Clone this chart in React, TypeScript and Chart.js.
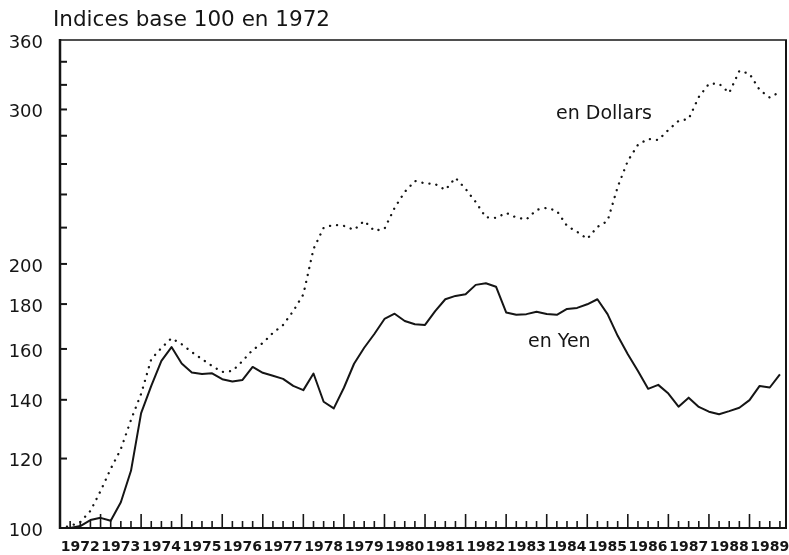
import React, { useEffect, useRef } from "react";
import { Chart, registerables } from "chart.js";

Chart.register(...registerables);

const TITLE = "Indices base 100 en 1972";
const FIRST_YEAR = 1972;
const YEARS = [1972, 1973, 1974, 1975, 1976, 1977, 1978, 1979, 1980, 1981, 1982, 1983, 1984, 1985, 1986, 1987, 1988, 1989];
const Y_TICK_VALUES = [100, 120, 140, 160, 180, 200, 220, 240, 260, 280, 300, 320, 340, 360];
const Y_LABELLED_VALUES = [100, 120, 140, 160, 180, 200, 300, 360];
const SERIES_NAMES = ["en Dollars", "en Yen"];

// quarterly index values, 1972 Q1 .. 1989 Q4
const DOLLARS = [
  100, 100.5, 101.6, 104.6,
  110.2, 116.8, 123.0, 132.8,
  142.2, 155.8, 160.4, 164.6,
  162.0, 158.7, 155.8, 153.0,
  150.6, 151.0, 155.0, 159.6,
  162.5, 166.9, 170.4, 176.7,
  184.6, 208.0, 219.9, 221.6,
  221.0, 218.7, 223.9, 218.2,
  219.3, 231.7, 241.6, 248.7,
  247.1, 246.7, 242.9, 250.7,
  243.5, 235.3, 226.0, 225.7,
  228.7, 225.9, 224.8, 230.5,
  231.7, 229.9, 221.0, 217.6,
  213.6, 220.4, 223.9, 244.8,
  262.1, 273.4, 277.7, 276.9,
  284.3, 291.1, 292.6, 310.0,
  320.9, 321.0, 313.3, 332.0,
  329.5, 315.8, 309.5, 314.2,
];

const YEN = [
  100, 100, 100.5, 102.1,
  102.7, 101.9, 107.0, 116.2,
  135.2, 145.2, 155.1, 160.8,
  154.0, 150.4, 149.8, 150.1,
  147.8, 146.9, 147.5, 152.6,
  150.3, 149.1, 147.9, 145.2,
  143.6, 150.0, 139.3, 136.9,
  144.5, 153.9, 160.5, 166.4,
  173.1, 175.5, 172.2, 170.7,
  170.4, 176.7, 182.3, 183.9,
  184.7, 189.3, 190.1, 188.4,
  176.1, 175.0, 175.3, 176.4,
  175.4, 175.0, 177.7, 178.2,
  179.9, 182.3, 175.3, 165.6,
  157.8, 151.0, 144.1, 145.6,
  142.3, 137.5, 140.8, 137.4,
  135.7, 134.8, 135.9, 137.1,
  139.9, 145.2, 144.6, 149.7,
];

const toPoints = (vals: number[]) => vals.map((v, i) => ({ x: FIRST_YEAR + i / 4, y: v }));

const INK = "#151515";

const framePlugin = {
  id: "frameTicks",
  afterDatasetsDraw(chart: any) {
    const { ctx, chartArea: a, scales } = chart;
    const x = scales.x;
    const y = scales.y;
    const line = (x1: number, y1: number, x2: number, y2: number, w: number) => {
      ctx.lineWidth = w;
      ctx.beginPath();
      ctx.moveTo(x1, y1);
      ctx.lineTo(x2, y2);
      ctx.stroke();
    };
    ctx.save();
    ctx.strokeStyle = INK;
    ctx.lineCap = "butt";
    line(a.left, a.top - 1, a.left, a.bottom + 1, 2.5);
    line(a.left, a.bottom, a.right + 1, a.bottom, 2.2);
    line(a.left, a.top, a.right + 1, a.top, 1.6);
    line(a.right, a.top, a.right, a.bottom, 2);
    Y_TICK_VALUES.forEach((v) => {
      if (v <= y.min || v >= y.max) return;
      const py = y.getPixelForValue(v);
      line(a.left, py, a.left + 7, py, 2);
    });
    for (let q = 1; q < YEARS.length * 4; q++) {
      const t = FIRST_YEAR + q / 4;
      const px = x.getPixelForValue(t);
      if (px > a.right - 2) break;
      const len = q % 4 === 0 ? 14 : 7;
      line(px, a.bottom, px, a.bottom - len, 1.6);
    }
    ctx.restore();
  },
};

const textPlugin = {
  id: "texts",
  afterDraw(chart: any) {
    const { ctx, chartArea: a, scales } = chart;
    const x = scales.x;
    const y = scales.y;
    ctx.save();
    ctx.fillStyle = INK;
    ctx.textAlign = "left";
    ctx.textBaseline = "alphabetic";
    ctx.font = "21.5px 'DejaVu Sans'";
    ctx.fillText(TITLE, a.left - 7, 26);
    ctx.font = "19px 'DejaVu Sans'";
    ctx.fillText(SERIES_NAMES[0], x.getPixelForValue(1984.23), y.getPixelForValue(292.6));
    ctx.fillText(SERIES_NAMES[1], x.getPixelForValue(1983.54), y.getPixelForValue(160.8));
    ctx.restore();
  },
};

export default function App() {
  const ref = useRef<HTMLCanvasElement | null>(null);

  useEffect(() => {
    if (!ref.current) return;
    const chart = new Chart(ref.current, {
      type: "line",
      data: {
        datasets: [
          {
            label: SERIES_NAMES[0],
            data: toPoints(DOLLARS),
            borderColor: INK,
            borderWidth: 2.3,
            borderDash: [0.1, 7],
            borderCapStyle: "round",
            pointRadius: 0,
            tension: 0,
            fill: false,
          },
          {
            label: SERIES_NAMES[1],
            data: toPoints(YEN),
            borderColor: INK,
            borderWidth: 2,
            pointRadius: 0,
            tension: 0,
            fill: false,
            borderJoinStyle: "round",
          },
        ],
      },
      options: {
        responsive: false,
        animation: false,
        devicePixelRatio: 1,
        layout: { padding: { top: 40, right: 3, left: 0, bottom: 0 } },
        plugins: {
          legend: { display: false },
          tooltip: { enabled: false },
          title: { display: false },
        },
        scales: {
          x: {
            type: "linear",
            min: FIRST_YEAR,
            max: 1989.9,
            grid: { display: false, drawTicks: false },
            border: { display: false },
            afterBuildTicks: (s: any) => {
              s.ticks = YEARS.map((yr) => ({ value: yr + 0.5 }));
            },
            afterFit: (s: any) => {
              s.height = 27;
              s.paddingLeft = 0;
              s.paddingRight = 0;
            },
            ticks: {
              autoSkip: false,
              maxRotation: 0,
              minRotation: 0,
              padding: 11,
              color: INK,
              font: { family: "'DejaVu Sans'", weight: "bold", size: 14 },
              callback: (v: any) => String(Math.floor(Number(v))),
            },
          },
          y: {
            type: "logarithmic",
            min: 100,
            max: 360,
            grid: { display: false, drawTicks: false },
            border: { display: false },
            afterBuildTicks: (s: any) => {
              s.ticks = Y_TICK_VALUES.map((v) => ({ value: v }));
            },
            afterFit: (s: any) => {
              s.width = 60;
              s.paddingTop = 0;
              s.paddingBottom = 0;
            },
            ticks: {
              autoSkip: false,
              padding: 17,
              labelOffset: 3,
              color: INK,
              font: { family: "'DejaVu Sans'", size: 18 },
              callback: (v: any) => (Y_LABELLED_VALUES.includes(Number(v)) ? String(v) : ""),
            },
          },
        },
      },
      plugins: [framePlugin, textPlugin],
    } as any);
    return () => chart.destroy();
  }, []);

  return (
    <div style={{ position: "absolute", left: 0, top: 0, width: 789, height: 555, background: "#fff" }}>
      <canvas ref={ref} width={789} height={555} style={{ display: "block" }} />
    </div>
  );
}
